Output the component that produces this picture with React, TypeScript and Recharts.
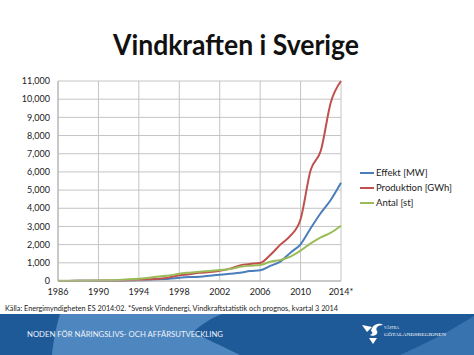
import React from "react";
import { LineChart, Line, XAxis, YAxis, CartesianGrid } from "recharts";

const years = [1986, 1987, 1988, 1989, 1990, 1991, 1992, 1993, 1994, 1995, 1996, 1997, 1998, 1999, 2000, 2001, 2002, 2003, 2004, 2005, 2006, 2007, 2008, 2009, 2010, 2011, 2012, 2013, 2014];
const effekt = [5, 6, 8, 10, 12, 14, 18, 25, 35, 60, 100, 125, 175, 215, 240, 290, 345, 400, 450, 550, 590, 830, 1070, 1560, 2020, 2900, 3740, 4470, 5400];
const produktion = [5, 6, 7, 8, 8, 10, 20, 40, 60, 90, 130, 200, 315, 370, 450, 490, 560, 680, 860, 940, 990, 1430, 2000, 2490, 3400, 6110, 7160, 9840, 11000];
const antal = [10, 12, 15, 20, 25, 40, 60, 90, 130, 180, 250, 300, 400, 460, 510, 550, 600, 660, 780, 840, 880, 1060, 1160, 1340, 1670, 2070, 2400, 2660, 3040];

const xTicks = [1986, 1990, 1994, 1998, 2002, 2006, 2010, 2014];
const xTickLabels = ["1986", "1990", "1994", "1998", "2002", "2006", "2010", "2014*"];
const yTicks = [0, 1000, 2000, 3000, 4000, 5000, 6000, 7000, 8000, 9000, 10000, 11000];

const seriesNames = ["Effekt [MW]", "Produktion [GWh]", "Antal [st]"];
const seriesKeys = ["effekt", "produktion", "antal"];
const seriesColors = ["#4a7ebb", "#c0504d", "#9bbb59"];

const title = "Vindkraften i Sverige";
const sourceText = "Källa: Energimyndigheten ES 2014:02.  *Svensk Vindenergi, Vindkraftstatistik och prognos, kvartal 3 2014";
const footerText = "NODEN FÖR NÄRINGSLIVS- OCH AFFÄRSUTVECKLING";
const logoLine1 = "VÄSTRA";
const logoLine2 = "GÖTALANDSREGIONEN";

const data = years.map((y, i) => ({
  year: y,
  effekt: effekt[i],
  produktion: produktion[i],
  antal: antal[i],
}));

const FONT = "Lato, 'Open Sans', sans-serif";

export default function App() {
  return (
    <div style={{ position: "absolute", left: 0, top: 0, width: 474, height: 355, background: "#fff", overflow: "hidden" }}>
      <svg width={474} height={355} style={{ position: "absolute", left: 0, top: 0 }}>
        <text x={113} y={55} fontFamily={FONT} fontWeight={700} fontSize={29} fill="#111" textLength={246} lengthAdjust="spacingAndGlyphs">
          {title}
        </text>
        <text x={5} y={311} fontFamily={FONT} fontSize={7.6} fill="#222" textLength={333} lengthAdjust="spacingAndGlyphs">
          {sourceText}
        </text>
        <rect x={0} y={314} width={474} height={41} fill="#4e86bf" />
        <path d="M0 314 L60 314 C55 330 53 345 52 355 L0 355 Z" fill="#1f5a98" />
        <path d="M222 314 L474 314 L474 355 L240 355 C222 346 204 338 193 332 C201 325 211 318 222 314 Z" fill="#1f5a98" />
        <path d="M400 355 C430 342 455 328 474 316 L474 355 Z" fill="#3873b0" />
        <text x={27} y={337} fontFamily={FONT} fontSize={8.2} fill="#eef3f9" textLength={196} lengthAdjust="spacingAndGlyphs">
          {footerText}
        </text>
        <path d="M362 325 L372 327 L367 332 Z" fill="#fff" />
        <path d="M371 331 C372 324 380 322 383 325 C378 325 375 328 377 331 C379 335 372 337 370 335 C373 334 373 332 371 331 Z" fill="#fff" />
        <path d="M369 338 L377 338 L373 344 Z" fill="#fff" />
        <text x={384} y={329} fontFamily="'Liberation Serif', serif" fontSize={5} fill="#fff" textLength={15} lengthAdjust="spacingAndGlyphs">
          {logoLine1}
        </text>
        <text x={384} y={336} fontFamily="'Liberation Serif', serif" fontSize={5} fill="#fff" textLength={62} lengthAdjust="spacingAndGlyphs">
          {logoLine2}
        </text>
      </svg>
      <div style={{ position: "absolute", left: 0, top: 0 }}>
        <LineChart width={474} height={300} data={data} margin={{ top: 81, right: 133, left: 8, bottom: 5 }}>
          <CartesianGrid stroke="#c4c4c4" strokeWidth={1} />
          <XAxis
            dataKey="year"
            type="number"
            domain={[1986, 2014]}
            ticks={xTicks}
            tickFormatter={(v: number) => xTickLabels[xTicks.indexOf(v)] ?? String(v)}
            height={14}
            tickLine={false}
            axisLine={{ stroke: "#b0b0b0" }}
            tick={{ fontFamily: FONT, fontSize: 9, fill: "#222" }}
            interval={0}
          />
          <YAxis
            domain={[0, 11000]}
            ticks={yTicks}
            width={50}
            tickLine={false}
            axisLine={{ stroke: "#b0b0b0" }}
            tickFormatter={(v: number) => v.toLocaleString("en-US")}
            tick={{ fontFamily: FONT, fontSize: 9, fill: "#222" }}
            interval={0}
          />
          {seriesKeys.map((k, i) => (
            <Line key={k} type="monotone" dataKey={k} name={seriesNames[i]} stroke={seriesColors[i]} strokeWidth={2} dot={false} isAnimationActive={false} />
          ))}
        </LineChart>
      </div>
      <div style={{ position: "absolute", left: 360, top: 165, fontFamily: FONT, fontSize: 9.5, color: "#222" }}>
        {seriesNames.map((n, i) => (
          <div key={n} style={{ display: "flex", alignItems: "center", height: 15, whiteSpace: "nowrap" }}>
            <div style={{ width: 14, height: 2, background: seriesColors[i], marginRight: 2 }} />
            <span>{n}</span>
          </div>
        ))}
      </div>
    </div>
  );
}
